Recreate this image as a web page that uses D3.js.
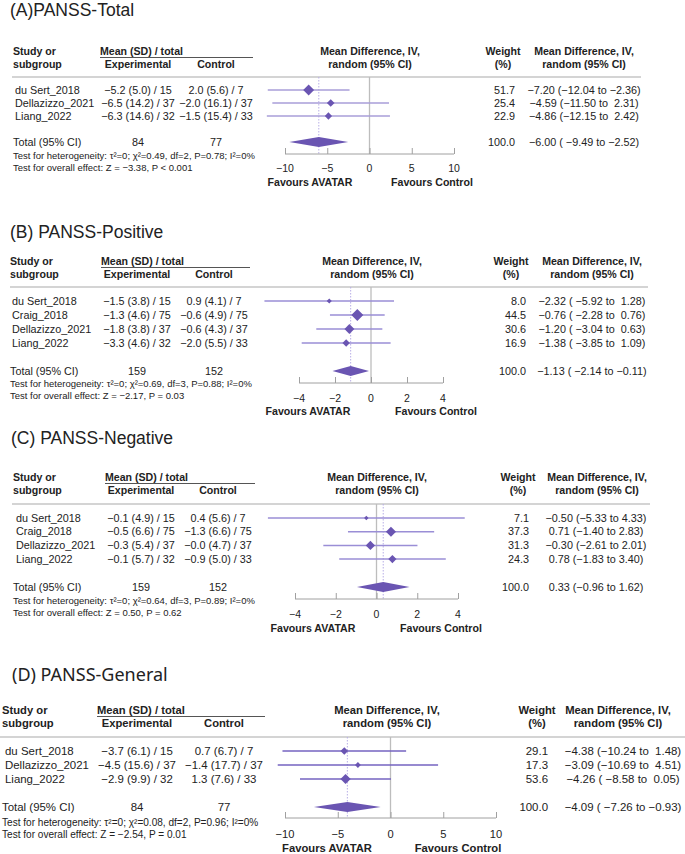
<!DOCTYPE html>
<html>
<head>
<meta charset="utf-8">
<script src="https://cdn.jsdelivr.net/npm/d3@7"></script>
<style>
  body { margin: 0; background: #fff; }
  text { font-family: "Liberation Sans", Arial, sans-serif; fill: #222; }
</style>
</head>
<body>
<script>
// ---- data ----
var studiesA = ["du Sert_2018", "Dellazizzo_2021", "Liang_2022"];
var expA = ["−5.2 (5.0) / 15", "−6.5 (14.2) / 37", "−6.3 (14.6) / 32"];
var ctlA = ["2.0 (5.6) / 7", "−2.0 (16.1) / 37", "−1.5 (15.4) / 33"];
var mdA = [-7.20, -4.59, -4.86];
var loA = [-12.04, -11.50, -12.15];
var hiA = [-2.36, 2.31, 2.42];
var wtA = [51.7, 25.4, 22.9];
var pooledA = [-6.00, -9.49, -2.52];
var totalsA = [84, 77];
var hetA = "Test for heterogeneity: τ²=0; χ²=0.49, df=2, P=0.78; I²=0%";
var effA = "Test for overall effect: Z = −3.38, P < 0.001";
var ticksA = [-10, -5, 0, 5, 10];

var studiesB = ["du Sert_2018", "Craig_2018", "Dellazizzo_2021", "Liang_2022"];
var expB = ["−1.5 (3.8) / 15", "−1.3 (4.6) / 75", "−1.8 (3.8) / 37", "−3.3 (4.6) / 32"];
var ctlB = ["0.9 (4.1) / 7", "−0.6 (4.9) / 75", "−0.6 (4.3) / 37", "−2.0 (5.5) / 33"];
var mdB = [-2.32, -0.76, -1.20, -1.38];
var loB = [-5.92, -2.28, -3.04, -3.85];
var hiB = [1.28, 0.76, 0.63, 1.09];
var wtB = [8.0, 44.5, 30.6, 16.9];
var pooledB = [-1.13, -2.14, -0.11];
var totalsB = [159, 152];
var hetB = "Test for heterogeneity: τ²=0; χ²=0.69, df=3, P=0.88; I²=0%";
var effB = "Test for overall effect: Z = −2.17, P = 0.03";
var ticksB = [-4, -2, 0, 2, 4];

var studiesC = ["du Sert_2018", "Craig_2018", "Dellazizzo_2021", "Liang_2022"];
var expC = ["−0.1 (4.9) / 15", "−0.5 (6.6) / 75", "−0.3 (5.4) / 37", "−0.1 (5.7) / 32"];
var ctlC = ["0.4 (5.6) / 7", "−1.3 (6.6) / 75", "−0.0 (4.7) / 37", "−0.9 (5.0) / 33"];
var mdC = [-0.50, 0.71, -0.30, 0.78];
var loC = [-5.33, -1.40, -2.61, -1.83];
var hiC = [4.33, 2.83, 2.01, 3.40];
var wtC = [7.1, 37.3, 31.3, 24.3];
var pooledC = [0.33, -0.96, 1.62];
var totalsC = [159, 152];
var hetC = "Test for heterogeneity: τ²=0; χ²=0.64, df=3, P=0.89; I²=0%";
var effC = "Test for overall effect: Z = 0.50, P = 0.62";
var ticksC = [-4, -2, 0, 2, 4];

var studiesD = ["du Sert_2018", "Dellazizzo_2021", "Liang_2022"];
var expD = ["−3.7 (6.1) / 15", "−4.5 (15.6) / 37", "−2.9 (9.9) / 32"];
var ctlD = ["0.7 (6.7) / 7", "−1.4 (17.7) / 37", "1.3 (7.6) / 33"];
var mdD = [-4.38, -3.09, -4.26];
var loD = [-10.24, -10.69, -8.58];
var hiD = [1.48, 4.51, 0.05];
var wtD = [29.1, 17.3, 53.6];
var pooledD = [-4.09, -7.26, -0.93];
var totalsD = [84, 77];
var hetD = "Test for heterogeneity: τ²=0; χ²=0.08, df=2, P=0.96; I²=0%";
var effD = "Test for overall effect: Z = −2.54, P = 0.01";
var ticksD = [-10, -5, 0, 5, 10];

// ---- drawing ----
var w = 685, h = 854;
var svg = d3.select("body").append("svg").attr("width", w).attr("height", h);

var markCol = "#6a55b2";
var f2 = d3.format(".2f"), f1 = d3.format(".1f");
var rowSize = 10.8, hdrSize = 10.6, testSize = 9.5, tickSize = 10.5;

function ciText(m, l, u, pad) {
  var a = f2(l), b = f2(u);
  if (pad) { a = a.padStart(6, " "); b = b.padStart(5, " "); }
  return f2(m) + " (" + a + " to " + b + ")";
}

var fs = 1; // font scale for current panel

function txt(g, x, y, s, opt) {
  opt = opt || {};
  return g.append("text").attr("x", x).attr("y", y)
    .attr("dy", "0.35em")
    .attr("text-anchor", opt.anchor || "start")
    .attr("font-size", (opt.size || rowSize) * (opt.raw ? 1 : fs))
    .attr("font-weight", opt.bold ? "bold" : null)
    .style("white-space", "pre")
    .text(s);
}

function drawPanel(c, d) {
  var g = svg.append("g");
  fs = c.fs || 1;
  var x = d3.scaleLinear().domain([d.ticks[0], d.ticks[d.ticks.length - 1]]).range(c.xr);
  var r = d3.scaleSqrt().domain([0, 100]).range([0, c.R]);

  txt(g, c.titleX, c.titleY, c.title, {size: c.titleSize, raw: 1}).style("font-family", c.titleFont || null);

  // headers
  var h1 = c.hdrY, h2 = c.hdrY + 13;
  var b = {bold: 1, size: hdrSize};
  var bm = {bold: 1, size: hdrSize, anchor: "middle"};
  txt(g, c.hdrX, h1, "Study or", b);
  txt(g, c.hdrX, h2, "subgroup", b);
  txt(g, c.ulX0, h1, "Mean (SD) / total", b);
  g.append("line").attr("x1", c.ulX0).attr("x2", c.ulX1).attr("y1", c.hdrY + 6.5).attr("y2", c.hdrY + 6.5)
    .attr("stroke", "#555").attr("stroke-width", 1);
  txt(g, c.expX, h2, "Experimental", bm);
  txt(g, c.ctlX, h2, "Control", bm);
  txt(g, c.plotHdrX, h1, "Mean Difference, IV,", bm);
  txt(g, c.plotHdrX, h2, "random (95% CI)", bm);
  txt(g, c.wtHdrX, h1, "Weight", bm);
  txt(g, c.wtHdrX, h2, "(%)", bm);
  txt(g, c.ciHdrX, h1, "Mean Difference, IV,", bm);
  txt(g, c.ciHdrX, h2, "random (95% CI)", bm);
  g.append("line").attr("x1", c.lineX0).attr("x2", c.lineX1).attr("y1", c.lineY).attr("y2", c.lineY)
    .attr("stroke", "#d4d4d4").attr("stroke-width", 2);

  // reference lines
  g.append("line").attr("x1", x(0)).attr("x2", x(0)).attr("y1", c.lineY).attr("y2", c.axisY)
    .attr("stroke", "#bdbdbd").attr("stroke-width", 1.3);
  g.append("line").attr("x1", x(d.pooled[0])).attr("x2", x(d.pooled[0])).attr("y1", c.lineY).attr("y2", c.axisY)
    .attr("stroke", "#b8aee6").attr("stroke-width", 1).attr("stroke-dasharray", "1.5,1.5");

  // study rows
  d.names.forEach(function (n, i) {
    var y = c.rowY0 + i * c.rowStep;
    txt(g, c.nameX, y, n);
    txt(g, c.expX, y, d.exp[i], {anchor: "middle"});
    txt(g, c.ctlX, y, d.ctl[i], {anchor: "middle"});
    txt(g, c.wtX, y, f1(d.wt[i]), {anchor: "end"});
    txt(g, c.ciX, y, ciText(d.md[i], d.lo[i], d.hi[i], c.pad), {anchor: "middle"});
    g.append("line").attr("x1", x(d.lo[i])).attr("x2", x(d.hi[i])).attr("y1", y).attr("y2", y)
      .attr("stroke", c.ciCol).attr("stroke-width", 1.5);
    var s = Math.max(r(d.wt[i]), 2);
    var cx = x(d.md[i]);
    g.append("path")
      .attr("d", "M" + (cx - s) + "," + y + "L" + cx + "," + (y - s) + "L" + (cx + s) + "," + y + "L" + cx + "," + (y + s) + "Z")
      .attr("fill", markCol);
  });

  // total
  var ty = c.totalY;
  txt(g, c.hdrX, ty, "Total (95% CI)");
  txt(g, c.expX, ty, String(d.totals[0]), {anchor: "middle"});
  txt(g, c.ctlX, ty, String(d.totals[1]), {anchor: "middle"});
  txt(g, c.wtX, ty, "100.0", {anchor: "end"});
  txt(g, c.ciX, ty, ciText(d.pooled[0], d.pooled[1], d.pooled[2], c.pad), {anchor: "middle"});
  g.append("path")
    .attr("d", "M" + x(d.pooled[1]) + "," + ty + "L" + x(d.pooled[0]) + "," + (ty - 5) +
      "L" + x(d.pooled[2]) + "," + ty + "L" + x(d.pooled[0]) + "," + (ty + 5) + "Z")
    .attr("fill", markCol);
  txt(g, c.hdrX, c.testY, d.het, {size: testSize});
  txt(g, c.hdrX, c.testY + 12, d.eff, {size: testSize});

  // axis, ticks pointing up
  var ax = g.append("g").attr("transform", "translate(0," + c.axisY + ")")
    .call(d3.axisTop(x).tickValues(d.ticks).tickSize(6).tickFormat(function () { return ""; }));
  ax.select(".domain").attr("stroke", "#a0a0a0").attr("d", "M" + c.xr[0] + ",0H" + c.xr[1]);
  ax.selectAll(".tick line").attr("stroke", "#a0a0a0");
  d.ticks.forEach(function (t) {
    txt(g, x(t), c.tickY, d3.format("")(t), {anchor: "middle", size: tickSize});
  });
  txt(g, c.favX[0], c.favY, "Favours AVATAR", bm);
  txt(g, c.favX[1], c.favY, "Favours Control", bm);
}

drawPanel({
  title: "(A)PANSS-Total", titleX: 10, titleY: 10, titleSize: 17.5,
  hdrX: 13, hdrY: 51, ulX0: 100, ulX1: 253, expX: 138, ctlX: 216,
  plotHdrX: 370, wtHdrX: 503, ciHdrX: 584, lineY: 77, lineX0: 12, lineX1: 641,
  nameX: 15, rowY0: 90, rowStep: 13, totalY: 142, testY: 156,
  axisY: 154, xr: [285, 454], tickY: 168, favY: 182, favX: [310, 432],
  wtX: 515, ciX: 584, R: 7.6, ciCol: "#a89ed8", pad: true
}, {names: studiesA, exp: expA, ctl: ctlA, md: mdA, lo: loA, hi: hiA, wt: wtA,
    pooled: pooledA, totals: totalsA, het: hetA, eff: effA, ticks: ticksA});

drawPanel({
  title: "(B) PANSS-Positive", titleX: 10, titleY: 232, titleSize: 17.5,
  hdrX: 10, hdrY: 261, ulX0: 101, ulX1: 250, expX: 137, ctlX: 214,
  plotHdrX: 372, wtHdrX: 511, ciHdrX: 592, lineY: 287, lineX0: 10, lineX1: 648,
  nameX: 12, rowY0: 301, rowStep: 14, totalY: 371, testY: 384,
  axisY: 383, xr: [299, 443], tickY: 398, favY: 411, favX: [308, 436],
  wtX: 526, ciX: 592, R: 9, ciCol: "#9a8ed6", pad: true
}, {names: studiesB, exp: expB, ctl: ctlB, md: mdB, lo: loB, hi: hiB, wt: wtB,
    pooled: pooledB, totals: totalsB, het: hetB, eff: effB, ticks: ticksB});

drawPanel({
  title: "(C) PANSS-Negative", titleX: 11, titleY: 438, titleSize: 17.5,
  hdrX: 13, hdrY: 477, ulX0: 105, ulX1: 255, expX: 141, ctlX: 218,
  plotHdrX: 377, wtHdrX: 518, ciHdrX: 597, lineY: 504, lineX0: 12, lineX1: 650,
  nameX: 16, rowY0: 518, rowStep: 13.7, totalY: 587, testY: 601,
  axisY: 599, xr: [295, 458], tickY: 614, favY: 628, favX: [313, 441],
  wtX: 529, ciX: 596, R: 8.3, ciCol: "#9a8ed6", pad: false
}, {names: studiesC, exp: expC, ctl: ctlC, md: mdC, lo: loC, hi: hiC, wt: wtC,
    pooled: pooledC, totals: totalsC, het: hetC, eff: effC, ticks: ticksC});

drawPanel({
  title: "(D) PANSS-General", titleX: 12, titleY: 675, titleSize: 18, titleFont: "'Noto Sans', sans-serif",
  hdrX: 2, hdrY: 710, ulX0: 97, ulX1: 265, expX: 137, ctlX: 224,
  plotHdrX: 387, wtHdrX: 537, ciHdrX: 618, lineY: 737, lineX0: 0, lineX1: 685,
  nameX: 5, rowY0: 751, rowStep: 14, totalY: 807, testY: 822,
  axisY: 818, xr: [285, 496], tickY: 834, favY: 848, favX: [327, 458],
  wtX: 548, ciX: 623, R: 7, ciCol: "#7563c0", pad: true, fs: 1.06
}, {names: studiesD, exp: expD, ctl: ctlD, md: mdD, lo: loD, hi: hiD, wt: wtD,
    pooled: pooledD, totals: totalsD, het: hetD, eff: effD, ticks: ticksD});
</script>
</body>
</html>
